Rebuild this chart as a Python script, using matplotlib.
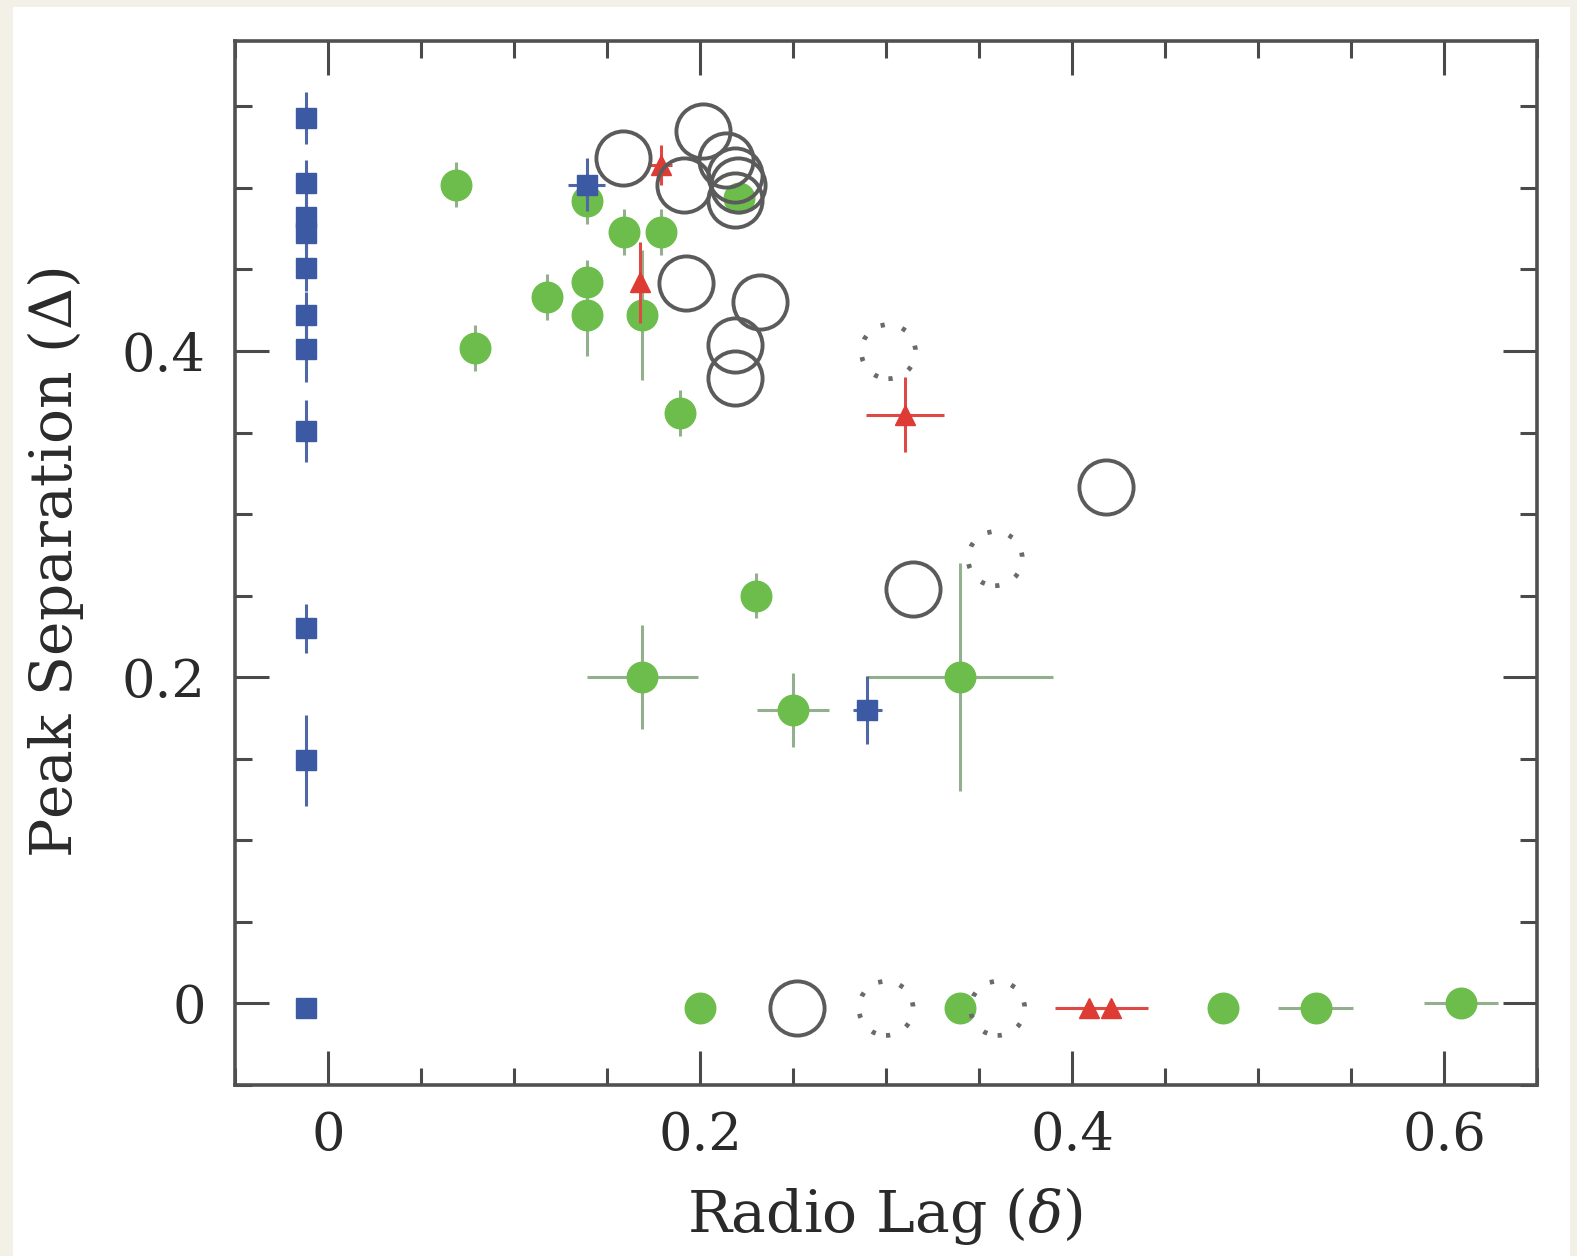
import matplotlib.pyplot as plt
from matplotlib.patches import Rectangle
from matplotlib.ticker import MultipleLocator, FixedLocator

plt.rcParams['font.family'] = 'DejaVu Serif'
plt.rcParams['mathtext.fontset'] = 'dejavuserif'

# blue squares
blue_x = [-0.012] * 11 + [0.139, 0.290]
blue_y = [0.543, 0.503, 0.482, 0.472, 0.451, 0.422, 0.401, 0.351, 0.230, 0.149, -0.003, 0.502, 0.180]
blue_xerr = [0.0] * 11 + [0.010, 0.008]
blue_yerr = [0.016, 0.014, 0.012, 0.012, 0.014, 0.014, 0.020, 0.019, 0.015, 0.028, 0.0, 0.016, 0.021]

# green filled circles
green_x = [0.069, 0.079, 0.118, 0.139, 0.139, 0.139, 0.159, 0.179, 0.169, 0.189, 0.221,
           0.230, 0.169, 0.250, 0.340, 0.200, 0.340, 0.481, 0.531, 0.609]
green_y = [0.502, 0.402, 0.433, 0.492, 0.442, 0.422, 0.473, 0.473, 0.422, 0.362, 0.494,
           0.250, 0.200, 0.180, 0.200, -0.003, -0.003, -0.003, -0.003, 0.0]
green_xerr = [0.0] * 12 + [0.030, 0.0195, 0.050, 0.0, 0.0, 0.0, 0.020, 0.020]
green_yerr = [0.014, 0.014, 0.014, 0.014, 0.014, 0.025, 0.014, 0.014, 0.040, 0.014, 0.0,
              0.014, 0.032, 0.0225, 0.070, 0.0, 0.0, 0.0, 0.0, 0.0]

# red triangles
red_x = [0.179, 0.168, 0.310, 0.409, 0.421]
red_y = [0.514, 0.442, 0.361, -0.003, -0.003]
red_xerr = [0.006, 0.0, 0.021, 0.018, 0.020]
red_yerr = [0.012, 0.025, 0.023, 0.0, 0.0]

# open grey circles
ring_x = [0.1585, 0.2015, 0.1913, 0.214, 0.219, 0.2205, 0.219, 0.1923, 0.2323, 0.219, 0.219,
          0.4182, 0.3146, 0.2523]
ring_y = [0.518, 0.5347, 0.502, 0.517, 0.508, 0.502, 0.4926, 0.4415, 0.4303, 0.4036, 0.3832,
          0.3167, 0.2543, -0.003]

# dotted grey circles
dot_x = [0.3013, 0.3587, 0.300, 0.360]
dot_y = [0.3996, 0.2727, -0.003, -0.003]

fig = plt.figure(figsize=(15.77, 12.56), dpi=100, facecolor='#f3f0e8')
fig.patches.append(Rectangle((13 / 1577, 0), (1570 - 13) / 1577, 1 - 7 / 1256,
                             transform=fig.transFigure, facecolor='white',
                             edgecolor='none', zorder=-10))
ax = fig.add_axes([235 / 1577, 1 - 1085 / 1256, 1302 / 1577, 1044 / 1256])
ax.set_facecolor('white')

ax.errorbar(green_x, green_y, xerr=green_xerr, yerr=green_yerr, fmt='o', ms=22,
            color='#6dbd4c', mec='#6dbd4c', ecolor='#93b08e', elinewidth=2.2, capsize=0, zorder=3)
ax.errorbar(blue_x, blue_y, xerr=blue_xerr, yerr=blue_yerr, fmt='s', ms=15,
            color='#3b5aa3', mec='#3b5aa3', ecolor='#4f67a6', elinewidth=2.2, capsize=0, zorder=4)
ax.errorbar(red_x, red_y, xerr=red_xerr, yerr=red_yerr, fmt='^', ms=15,
            color='#de3b35', mec='#de3b35', ecolor='#dd4a45', elinewidth=2.2, capsize=0, zorder=4)
ax.plot(ring_x, ring_y, 'o', ms=39, mfc='none', mec='#5b5b5b', mew=2.8, zorder=5)
ax.scatter(dot_x, dot_y, s=39 ** 2, facecolors='none', edgecolors='#6a6a6a',
           linewidths=3.4, linestyles=(0, (0.9, 3.8)), zorder=5)

ax.set_xlim(-0.05, 0.65)
ax.set_ylim(-0.05, 0.59)
ax.xaxis.set_major_locator(FixedLocator([0, 0.2, 0.4, 0.6]))
ax.xaxis.set_minor_locator(MultipleLocator(0.05))
ax.yaxis.set_major_locator(FixedLocator([0, 0.2, 0.4]))
ax.yaxis.set_minor_locator(MultipleLocator(0.05))
ax.set_xticklabels(['0', '0.2', '0.4', '0.6'])
ax.set_yticklabels(['0', '0.2', '0.4'])

ax.tick_params(which='both', direction='in', top=True, right=True, color='#4a4a4a',
               width=2.2, labelsize=38, labelcolor='#2a2a2a')
ax.tick_params(which='major', length=24.5)
ax.tick_params(which='minor', length=12)
ax.tick_params(axis='x', pad=18)
ax.tick_params(axis='y', pad=21)
for s in ax.spines.values():
    s.set_linewidth(2.6)
    s.set_color('#505050')

ax.set_xlabel(r'Radio Lag ($\delta$)', fontsize=42, color='#2a2a2a')
ax.set_ylabel(r'Peak Separation ($\Delta$)', fontsize=42, color='#2a2a2a')
ax.xaxis.set_label_coords(0.499, -0.096)
ax.yaxis.label.set_va('center')
ax.yaxis.set_label_coords(-0.138, 0.5)

fig.savefig('out.png', dpi=100, facecolor=fig.get_facecolor())
